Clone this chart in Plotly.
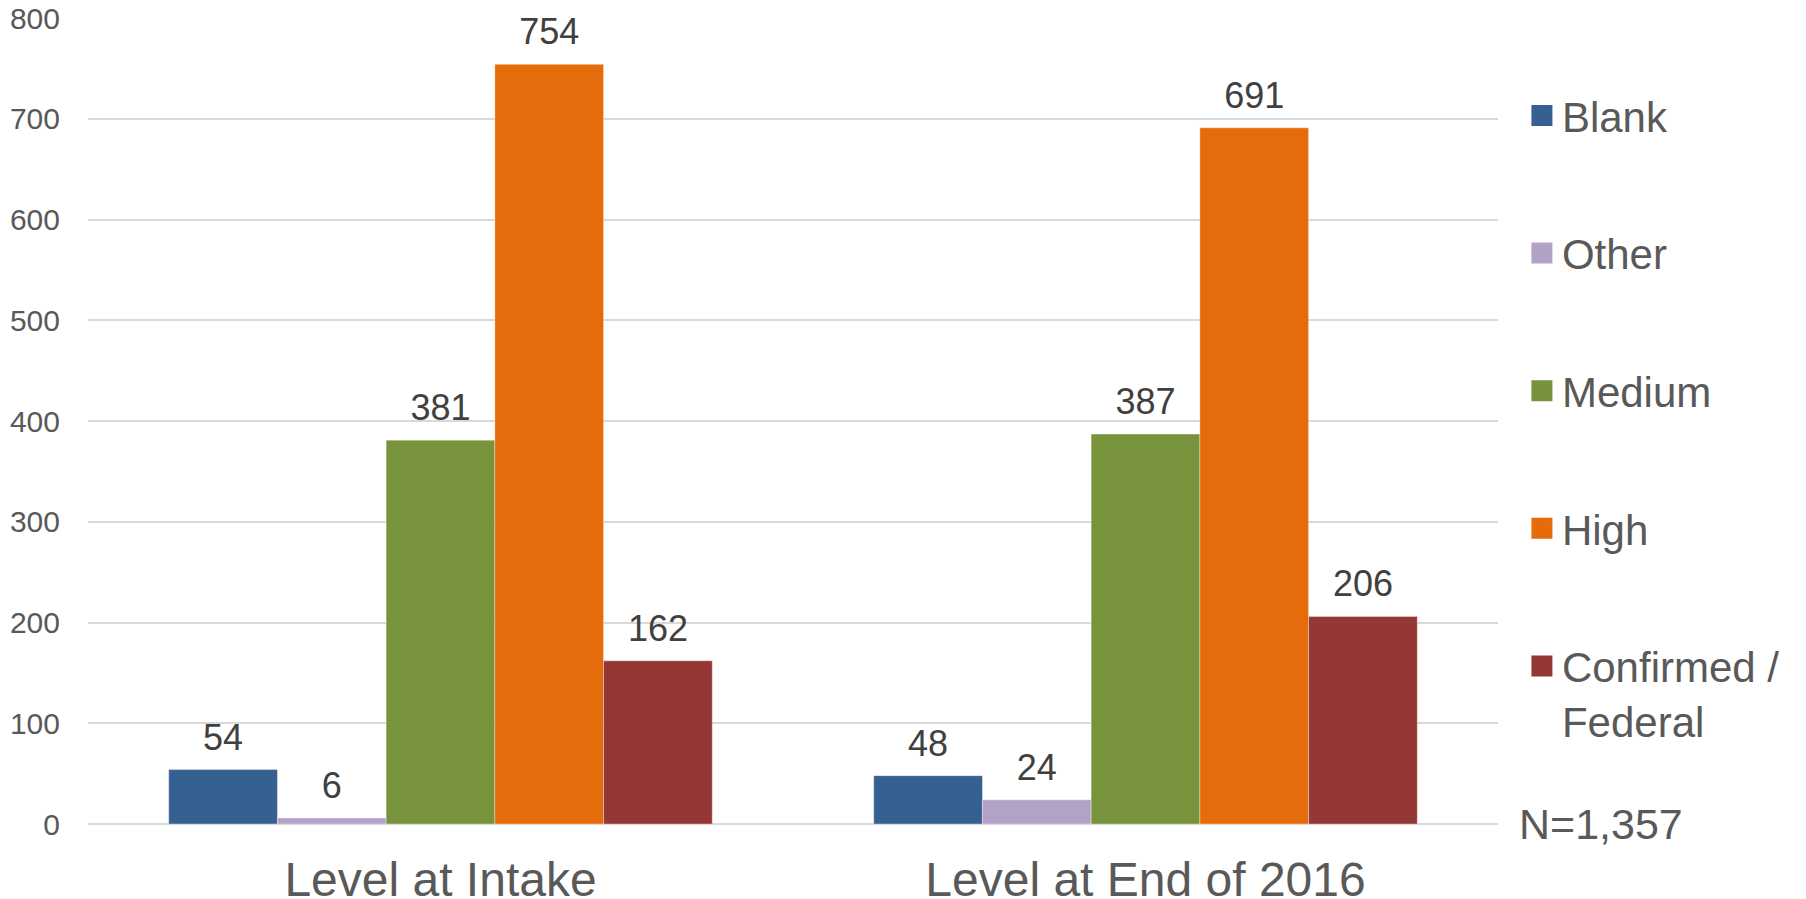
import plotly.graph_objects as go

categories = ["Level at Intake", "Level at End of 2016"]
series_names = ["Blank", "Other", "Medium", "High", "Confirmed /<br>Federal"]
blank = [54, 48]
other = [6, 24]
medium = [381, 387]
high = [754, 691]
confirmed = [162, 206]
y_ticks = [0, 100, 200, 300, 400, 500, 600, 700, 800]
note = "N=1,357"

colors = ["#366092", "#B3A2C7", "#77933C", "#E46C0A", "#953735"]
series_values = [blank, other, medium, high, confirmed]

FONT = "Liberation Sans, Arial, sans-serif"
GAP = 0.229

fig = go.Figure()
for name, vals, col in zip(series_names, series_values, colors):
    fig.add_trace(go.Bar(
        x=categories, y=vals, name=name,
        marker=dict(color=col, line=dict(color="rgba(255,255,255,0.35)", width=1)),
        showlegend=False, legendgroup=name, hoverinfo="x+y+name",
    ))
# value labels, grouped like the bars and lifted above each bar
for name, vals in zip(series_names, series_values):
    fig.add_trace(go.Scatter(
        x=categories, y=vals, mode="markers+text", legendgroup=name,
        text=[str(v) for v in vals], textposition="top center",
        textfont=dict(family=FONT, size=36, color="#404040"),
        marker=dict(size=16, opacity=0), showlegend=False,
        hoverinfo="skip", cliponaxis=False,
    ))
# legend entries with larger square keys (on a hidden overlay axis)
for name, col in zip(series_names, colors):
    fig.add_trace(go.Scatter(
        x=[None], y=[None], mode="markers", name=name, legendgroup=name,
        marker=dict(symbol="square", size=22, color=col,
                    line=dict(color=col, width=5)),
        xaxis="x2", yaxis="y2", showlegend=True,
    ))

fig.update_layout(
    width=1798, height=891,
    margin=dict(l=80, r=308, t=10, b=75, autoexpand=False),
    paper_bgcolor="white", plot_bgcolor="white",
    barmode="group", bargap=GAP, bargroupgap=0,
    scattermode="group", scattergap=GAP,
    font=dict(family=FONT, color="#595959"),
    legend=dict(
        xref="container", yref="container", x=0.842, y=0.9173,
        xanchor="left", yanchor="top",
        font=dict(family=FONT, size=42, color="#595959"),
        tracegroupgap=80, valign="top", itemsizing="trace",
        bgcolor="rgba(0,0,0,0)", maxheight=891,
    ),
    xaxis=dict(
        showline=False, ticks="", showgrid=False, automargin=False,
        tickfont=dict(family=FONT, size=48, color="#595959"),
        ticklabelstandoff=23,
    ),
    yaxis=dict(
        range=[0, 800], tickvals=y_ticks, showline=False, ticks="",
        automargin=False, ticklabeloverflow="allow",
        gridcolor="#D9D9D9", gridwidth=1.5,
        zeroline=True, zerolinecolor="#D9D9D9", zerolinewidth=1.5,
        tickfont=dict(family=FONT, size=30, color="#595959"),
        ticklabelstandoff=27,
    ),
    xaxis2=dict(visible=False, overlaying="x", range=[0, 1]),
    yaxis2=dict(visible=False, overlaying="y", range=[0, 1]),
    annotations=[dict(
        text=note, xref="paper", yref="y", x=1.0135, y=0,
        xanchor="left", yanchor="middle", showarrow=False,
        font=dict(family=FONT, size=43, color="#595959"),
    )],
)

fig.write_html("out.html")
